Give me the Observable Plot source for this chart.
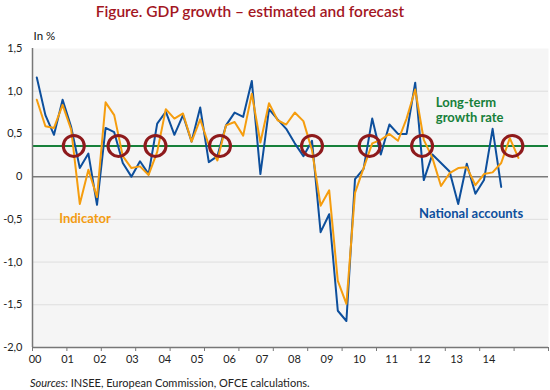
<!DOCTYPE html>
<html><head><meta charset="utf-8">
<script src="https://cdn.jsdelivr.net/npm/d3@7"></script>
<script src="https://cdn.jsdelivr.net/npm/@observablehq/plot@0.6"></script>
<style>
body{margin:0;background:#fff;font-family:Lato,"Open Sans",sans-serif;}
#title{height:22px;line-height:22px;width:500px;text-align:center;color:#a3161f;font-size:15.5px;font-weight:600;}
#cap{font-size:11px;color:#222;padding-left:30px;margin-top:3px;line-height:16px;}
</style></head><body>
<div id="title">Figure. GDP growth – estimated and forecast</div>
<div id="chart"></div>
<div id="cap"><i>Sources:</i> INSEE, European Commission, OFCE calculations.</div>
<script>
// quarterly categories 2000Q1 .. 2014Q4
const quarters = d3.range(2000, 2015).flatMap(y => [1, 2, 3, 4].map(q => `${y}Q${q}`));
const nationalAccounts = [1.16, 0.72, 0.49, 0.90, 0.58, 0.10, 0.27, -0.33, 0.57, 0.52, 0.16, 0.00, 0.18, 0.03, 0.62, 0.76, 0.49, 0.72, 0.41, 0.81, 0.17, 0.24, 0.60, 0.75, 0.70, 1.12, 0.03, 0.79, 0.67, 0.56, 0.39, 0.24, 0.42, -0.65, -0.44, -1.57, -1.69, -0.03, 0.09, 0.68, 0.26, 0.61, 0.50, 0.50, 1.10, -0.04, 0.26, 0.16, 0.06, -0.32, 0.15, -0.20, -0.04, 0.56, -0.12];
const indicator = [0.90, 0.59, 0.57, 0.84, 0.55, -0.32, 0.08, -0.24, 0.87, 0.72, 0.24, 0.10, 0.12, 0.02, 0.29, 0.79, 0.68, 0.74, 0.41, 0.67, 0.37, 0.19, 0.60, 0.64, 0.48, 0.97, 0.40, 0.86, 0.66, 0.61, 0.75, 0.65, 0.31, -0.34, -0.16, -1.22, -1.49, -0.19, 0.10, 0.39, 0.43, 0.50, 0.42, 0.68, 1.02, 0.43, 0.22, -0.11, 0.04, 0.10, 0.11, -0.10, 0.03, 0.05, 0.16, 0.45, 0.22];
const longTermRate = 0.36;
// turning points (position in quarters, index from 2000Q1)
const turningPoints = [4.3, 9.5, 13.8, 21.3, 32, 38.7, 44.8, 55.3];
const yearLabels = ["00","01","02","03","04","05","06","07","08","09","10","11","12","13","14"];
const yTicks = [1.5, 1.0, 0.5, 0, -0.5, -1.0, -1.5, -2.0];

const na = nationalAccounts.map((v, i) => ({i, v}));
const ind = indicator.map((v, i) => ({i, v}));
const yearBounds = d3.range(0, 16).map(k => k * 4 - 0.5);
const labelStep = 3.77;
const labelPos = yearLabels.map((s, k) => k * labelStep - 0.2);
const fmtY = d => d === 0 ? "0" : d.toFixed(1).replace(".", ",");

const lrLabel = [{i: 46.4, v: 0.94, text: "Long-term\ngrowth rate"}];
const seriesLabels = [
  {i: 50.5, v: -0.44, text: "National accounts", color: "#0d4f9c"},
  {i: 5.6, v: -0.49, text: "Indicator", color: "#f39c12"}
];

const chart = Plot.plot({
  width: 550, height: 350,
  marginTop: 26, marginBottom: 25, marginLeft: 32, marginRight: 2,
  style: {fontFamily: "Lato, 'Open Sans', sans-serif", fontSize: "11px", color: "#222", background: "transparent"},
  x: {domain: [-0.5, quarters.length - 0.5], label: null},
  y: {domain: [-2, 1.5], label: null},
  marks: [
    Plot.frame({fill: "#f5f5f5", stroke: "none"}),
    Plot.gridY({ticks: yTicks.filter(d => d !== 0 && d !== 1.5 && d !== -2), stroke: "#dedede", strokeOpacity: 1, strokeWidth: 1}),
    Plot.ruleY([0], {stroke: "#7a7a7a", strokeWidth: 1.5}),
    Plot.ruleY([longTermRate], {stroke: "#17803a", strokeWidth: 2}),
    Plot.line(na, {x: "i", y: "v", stroke: "#0d4f9c", strokeWidth: 2}),
    Plot.line(ind, {x: "i", y: "v", stroke: "#f59d0e", strokeWidth: 2}),
    Plot.dot(turningPoints, {x: d => d, y: () => longTermRate, r: 10.5, stroke: "#8e1a1c", strokeWidth: 3, fill: "none"}),
    Plot.text(lrLabel, {x: "i", y: "v", text: "text", fill: "#17803a", textAnchor: "start", fontWeight: "bold", fontSize: 13, lineHeight: 1.15, lineAnchor: "top"}),
    Plot.text(seriesLabels, {x: "i", y: "v", text: "text", fill: "color", textAnchor: "middle", fontWeight: "bold", fontSize: 13, lineAnchor: "middle"}),
    Plot.text(["In %"], {frameAnchor: "top-left", dx: 1, dy: -17, text: d => d, textAnchor: "start", fontSize: 11.5, fill: "#111"}),
    Plot.axisY({ticks: yTicks, tickSize: 0, tickPadding: 10, tickFormat: fmtY, label: null, fill: "#222"}),
    Plot.axisX({ticks: yearBounds, tickSize: 4, tickFormat: () => "", label: null, stroke: "#777"}),
    Plot.axisX({ticks: labelPos, tickSize: 0, tickPadding: 8, tickFormat: d => yearLabels[Math.round((d + 0.2) / labelStep)], label: null, fill: "#222"}),
    Plot.ruleX([-0.5], {stroke: "#777", strokeWidth: 1.5}),
    Plot.ruleY([-2], {stroke: "#777", strokeWidth: 1.5})
  ]
});
document.getElementById("chart").appendChild(chart);
</script>
</body></html>
